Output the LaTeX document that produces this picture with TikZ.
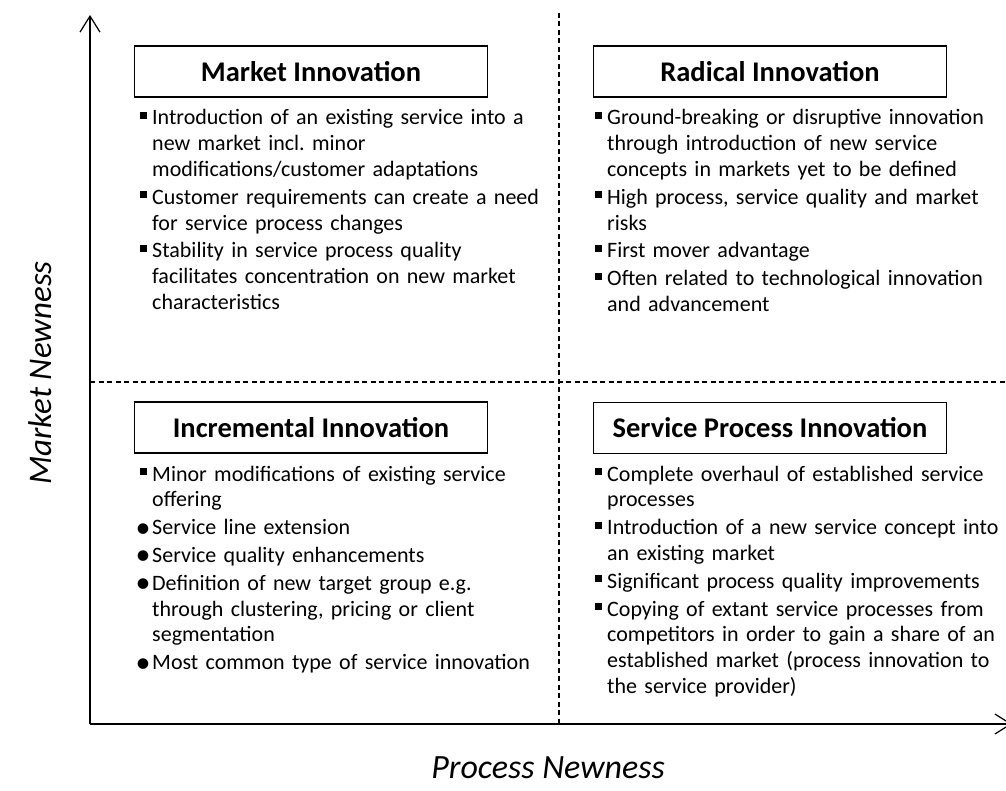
\documentclass[tikz,border=0pt]{standalone}
\usepackage{fontspec}
\setmainfont{Carlito}
\usetikzlibrary{arrows.meta}
\newcommand{\sqb}{\par\hangindent=12pt\hangafter=1\noindent\makebox[12pt][l]{\rule[6pt]{7pt}{7pt}}}
\newcommand{\rdb}{\par\hangindent=12pt\hangafter=1\noindent\makebox[12pt][l]{\kern-4.5pt\raisebox{-2.5pt}[0pt][0pt]{\makebox[0pt][l]{\fontsize{30}{30}\selectfont\textbullet}}}}
\tikzset{
  axis/.style={line width=1.8pt, -{Straight Barb[length=16pt,width=20pt,line width=1.2pt]}},
  divider/.style={line width=1.3pt, dash pattern=on 5pt off 3.5pt},
  headbox/.style={draw, line width=1.3pt, minimum width=353pt, minimum height=51pt, inner sep=0pt,
    font=\fontsize{28.5}{34}\selectfont\bfseries},
  body/.style={anchor=north west, inner sep=0pt, text width=420pt,
    font=\fontsize{22}{25.8}\selectfont,
    execute at begin node={\raggedright\frenchspacing\setlength{\parskip}{2pt}}},
  axislabel/.style={font=\fontsize{33}{38}\selectfont\itshape}
}
\begin{document}
\begin{tikzpicture}[x=1pt,y=-1pt]
\useasboundingbox (0,0) rectangle (1006,791);
% axes
\coordinate (O) at (90,724);
\coordinate (ytop) at (90,15);
\coordinate (xend) at (1012,724);
\draw[axis] (O) -- (ytop);
\draw[axis] (O) -- (xend);
% dividers
\coordinate (vtop) at (559,13);
\coordinate (vbot) at (559,724);
\coordinate (hl) at (90,382);
\coordinate (hr) at (1006,382);
\draw[divider] (vtop) -- (vbot);
\draw[divider] (hl) -- (hr);
% headings
\node[headbox] (market) at (311,71.5) {Market Innovation};
\node[headbox] (radical) at (770,71.5) {Radical Innovation};
\node[headbox] (incr) at (311,427.5) {Incremental Innovation};
\node[headbox] (proc) at (770,428) {Service Process Innovation};
% bodies
\node[body] (marketbody) at (140,97) {%
\sqb Introduction of an existing service into a\newline new market incl. minor\newline modifications/customer adaptations
\sqb Customer requirements can create a need\newline for service process changes
\sqb Stability in service process quality\newline facilitates concentration on new market\newline characteristics\par};
\node[body] (radicalbody) at (595,97) {%
\sqb Ground-breaking or disruptive innovation\newline through introduction of new service\newline concepts in markets yet to be defined
\sqb High process, service quality and market\newline risks
\sqb First mover advantage
\sqb Often related to technological innovation\newline and advancement\par};
\node[body] (incrbody) at (140,453) {%
\sqb Minor modifications of existing service\newline offering
\rdb Service line extension
\rdb Service quality enhancements
\rdb Definition of new target group e.g.\newline through clustering, pricing or client\newline segmentation
\rdb Most common type of service innovation\par};
\node[body] (procbody) at (595,453) {%
\sqb Complete overhaul of established service\newline processes
\sqb Introduction of a new service concept into\newline an existing market
\sqb Significant process quality improvements
\sqb Copying of extant service processes from\newline competitors in order to gain a share of an\newline established market (process innovation to\newline the service provider)\par};
% axis labels
\node[axislabel, rotate=90] (ylabel) at (40,373) {Market Newness};
\node[axislabel, font=\fontsize{34}{38}\selectfont\itshape] (xlabel) at (548,768) {Process Newness};
\end{tikzpicture}
\end{document}
